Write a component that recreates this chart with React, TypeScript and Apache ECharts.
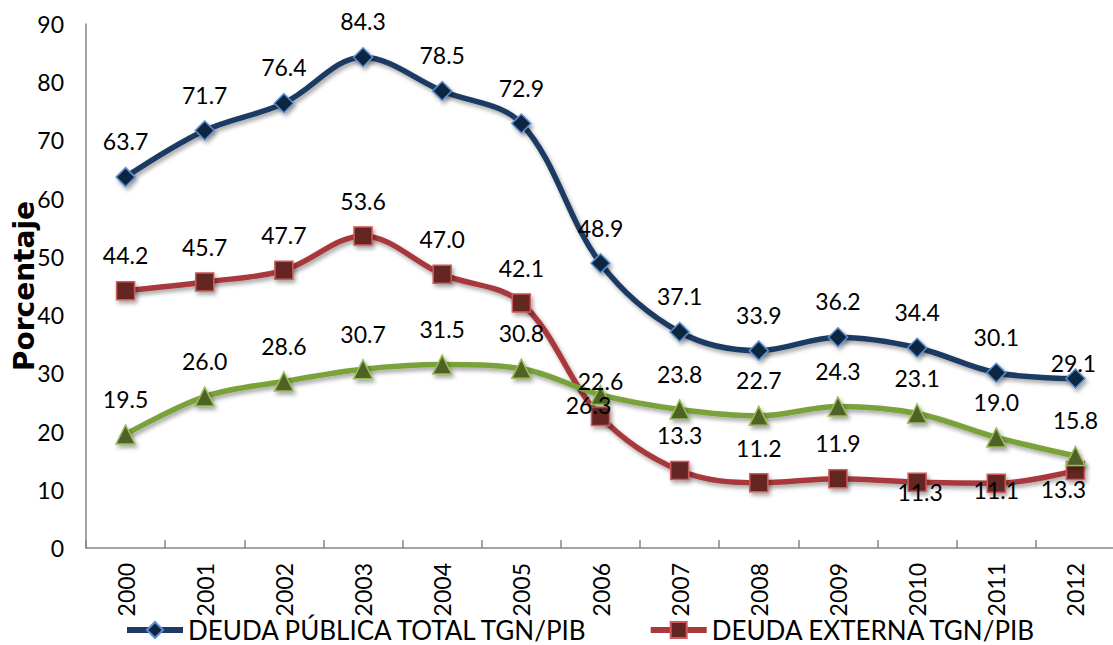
import React, { useEffect, useRef } from "react";
import * as echarts from "echarts";

const years = ["2000", "2001", "2002", "2003", "2004", "2005", "2006", "2007", "2008", "2009", "2010", "2011", "2012"];
const deudaPublicaTotal = [63.7, 71.7, 76.4, 84.3, 78.5, 72.9, 48.9, 37.1, 33.9, 36.2, 34.4, 30.1, 29.1];
const deudaExterna = [44.2, 45.7, 47.7, 53.6, 47.0, 42.1, 22.6, 13.3, 11.2, 11.9, 11.3, 11.1, 13.3];
const deudaInterna = [19.5, 26.0, 28.6, 30.7, 31.5, 30.8, 26.3, 23.8, 22.7, 24.3, 23.1, 19.0, 15.8];
const seriesNames = ["DEUDA PÚBLICA TOTAL TGN/PIB", "DEUDA EXTERNA TGN/PIB", "DEUDA INTERNA TGN/PIB"];
const yTicks = { min: 0, max: 90, interval: 10 };

const FONT = 'Lato, "Open Sans", "DejaVu Sans", sans-serif';

// label placement tweaks (style only): index -> [position, dx, dy]
const blueTweaks: Record<number, [string, number, number]> = { 12: ["top", -2, 20] };
const redTweaks: Record<number, [string, number, number]> = {
  10: ["inside", 3, 10],
  11: ["inside", 0, 7],
  12: ["inside", -12, 18],
};
const greenTweaks: Record<number, [string, number, number]> = { 6: ["inside", -12, 10] };

function buildData(values: number[], tweaks: Record<number, [string, number, number]>) {
  return values.map((v, i) => {
    const t = tweaks[i];
    if (!t) return v;
    return { value: v, label: { position: t[0], offset: [t[1], t[2]] } };
  });
}

const shadow = { shadowColor: "rgba(0,0,0,0.35)", shadowBlur: 4, shadowOffsetX: 2, shadowOffsetY: 3 };

export default function App() {
  const ref = useRef<HTMLDivElement>(null);
  useEffect(() => {
    if (!ref.current) return;
    const chart = echarts.init(ref.current, undefined, { renderer: "svg" });
    const label = {
      show: true,
      position: "top",
      distance: 14,
      fontSize: 23,
      color: "#000",
      fontFamily: FONT,
      formatter: (p: any) => Number(p.value).toFixed(1),
    };
    chart.setOption({
      animation: false,
      backgroundColor: "#fff",
      textStyle: { fontFamily: FONT },
      grid: { left: 86, right: -2, top: 24, bottom: 97, containLabel: false, outerBoundsMode: "none" },
      legend: {
        data: [seriesNames[0], seriesNames[1]],
        left: 124,
        top: 617,
        padding: 0,
        itemWidth: 56,
        itemHeight: 20,
        itemGap: 58,
        lineStyle: { width: 6 },
        textStyle: { fontSize: 26, lineHeight: 26, color: "#000", fontFamily: FONT },
      },
      xAxis: {
        type: "category",
        data: years,
        boundaryGap: true,
        axisLine: { lineStyle: { color: "#868686", width: 1.5 } },
        axisTick: { show: true, inside: true, length: 8, lineStyle: { color: "#868686", width: 1.5 } },
        axisLabel: { rotate: 90, fontSize: 23, color: "#000", margin: 15, fontFamily: FONT },
        splitLine: { show: false },
      },
      yAxis: {
        type: "value",
        min: yTicks.min,
        max: yTicks.max,
        interval: yTicks.interval,
        name: "Porcentaje",
        nameLocation: "middle",
        nameRotate: 90,
        nameGap: 48,
        nameMoveOverlap: false,
        nameTextStyle: { fontSize: 28, fontWeight: "bold", color: "#000", fontFamily: '"DejaVu Sans", sans-serif' },
        axisLine: { show: true, lineStyle: { color: "#868686", width: 1.5 } },
        axisTick: { show: false },
        axisLabel: { fontSize: 23, color: "#000", margin: 22, fontFamily: FONT },
        splitLine: { show: false },
      },
      series: [
        {
          name: seriesNames[0],
          type: "line",
          smooth: 0.35,
          data: buildData(deudaPublicaTotal, blueTweaks),
          symbol: "diamond",
          symbolSize: 19,
          lineStyle: { color: "#1F3A63", width: 5.5, ...shadow },
          itemStyle: { color: "#10253F", borderColor: "#5B8FD0", borderWidth: 1.5, ...shadow },
          label,
          z: 3,
        },
        {
          name: seriesNames[1],
          type: "line",
          smooth: 0.35,
          data: buildData(deudaExterna, redTweaks),
          symbol: "rect",
          symbolSize: 18,
          lineStyle: { color: "#A8393A", width: 5.5, ...shadow },
          itemStyle: { color: "#632523", borderColor: "#D05A5A", borderWidth: 1.5, ...shadow },
          label,
          z: 2,
        },
        {
          name: seriesNames[2],
          type: "line",
          smooth: 0.35,
          data: buildData(deudaInterna, greenTweaks),
          symbol: "triangle",
          symbolSize: 19,
          lineStyle: { color: "#7AA23A", width: 5.5, ...shadow },
          itemStyle: { color: "#4F6228", borderColor: "#9BBB59", borderWidth: 1.5, ...shadow },
          label,
          z: 2,
        },
      ],
    });
    return () => chart.dispose();
  }, []);
  return (
    <div
      ref={ref}
      style={{ position: "absolute", left: 0, top: 0, width: 1113, height: 645 }}
    />
  );
}
